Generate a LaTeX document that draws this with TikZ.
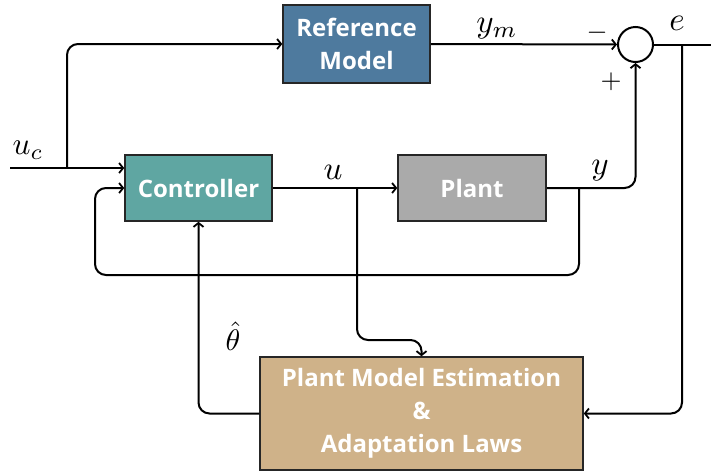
\documentclass[tikz,border=0pt]{standalone}
\usepackage{fontspec}
\newfontfamily\boxfont{Open Sans}
\usetikzlibrary{arrows.meta}
\definecolor{refc}{HTML}{4E7A9E}
\definecolor{ctrlc}{HTML}{5FA6A2}
\definecolor{plantc}{HTML}{AAAAAA}
\definecolor{estc}{HTML}{CFB289}
\begin{document}
\begin{tikzpicture}[x=1pt,y=-1pt,
  blk/.style={draw=black!85, line width=1.5pt, text=white, align=center, inner sep=0pt,
    font=\boxfont\bfseries\fontsize{24}{33}\selectfont},
  wire/.style={line width=2pt, rounded corners=11pt},
  arr/.style={wire, -{Straight Barb[length=4pt,width=10pt,line width=1.8pt]}},
  lbl/.style={scale=3.3, transform shape, inner sep=0pt},
  sgn/.style={scale=2.7, transform shape, inner sep=0pt}]
\useasboundingbox (0,0) rectangle (711,472);
\node[blk, fill=refc, minimum width=147pt, minimum height=78pt] (ref) at (356.5,44) {Reference\\Model};
\node[blk, fill=ctrlc, minimum width=147pt, minimum height=66pt] (ctrl) at (198.5,188) {Controller};
\node[blk, fill=plantc, minimum width=148pt, minimum height=66pt] (plant) at (472,188) {Plant};
\node[blk, fill=estc, minimum width=323pt, minimum height=113pt] (est) at (421.5,413.5) {Plant Model Estimation\\\&\\Adaptation Laws};
\node[draw, line width=2pt, circle, minimum size=35pt, inner sep=0pt] (sum) at (635.5,44.5) {};
% coordinates
\coordinate (in) at (10,168);
\coordinate (br1) at (67,168);
\coordinate (ub) at (357,188);
\coordinate (uturn) at (357,340);
\coordinate (yb) at (579,188);
\coordinate (yb1) at (579,275);
\coordinate (yb2) at (95,275);
\coordinate (yb3) at (95,188);
\coordinate (eout) at (711,44.5);
\coordinate (eb) at (682,44.5);
\coordinate (eb1) at (682,413.5);
% wires
\draw[arr] (in) -- (in -| ctrl.west);
\draw[arr] (br1) |- (ref.west);
\draw[arr] (ref.east) -- (sum.west);
\draw[arr] (ctrl.east) -- (plant.west);
\draw[arr] (ub) -- (uturn) -| (est.north);
\draw[arr] (plant.east) -| (sum.south);
\draw[arr] (yb) -- (yb1) -- (yb2) -- (yb3) -- (ctrl.west);
\draw[wire] (sum.east) -- (eout);
\draw[arr] (eb) -- (eb1) -- (est.east);
\draw[arr] (est.west) -| (ctrl.south);
% labels
\node[lbl, scale=0.95] (luc) at (28,150) {$u_c$};
\node[lbl] (lym) at (497,29) {$y_m$};
\node[sgn] (lminus) at (597,33) {$-$};
\node[sgn] (lplus) at (611,82) {$+$};
\node[lbl] (le) at (677,23) {$e$};
\node[lbl] (lu) at (333,172) {$u$};
\node[lbl] (ly) at (600,171) {$y$};
\node[lbl, scale=0.9] (lth) at (233,336) {$\hat\theta$};
\end{tikzpicture}
\end{document}
